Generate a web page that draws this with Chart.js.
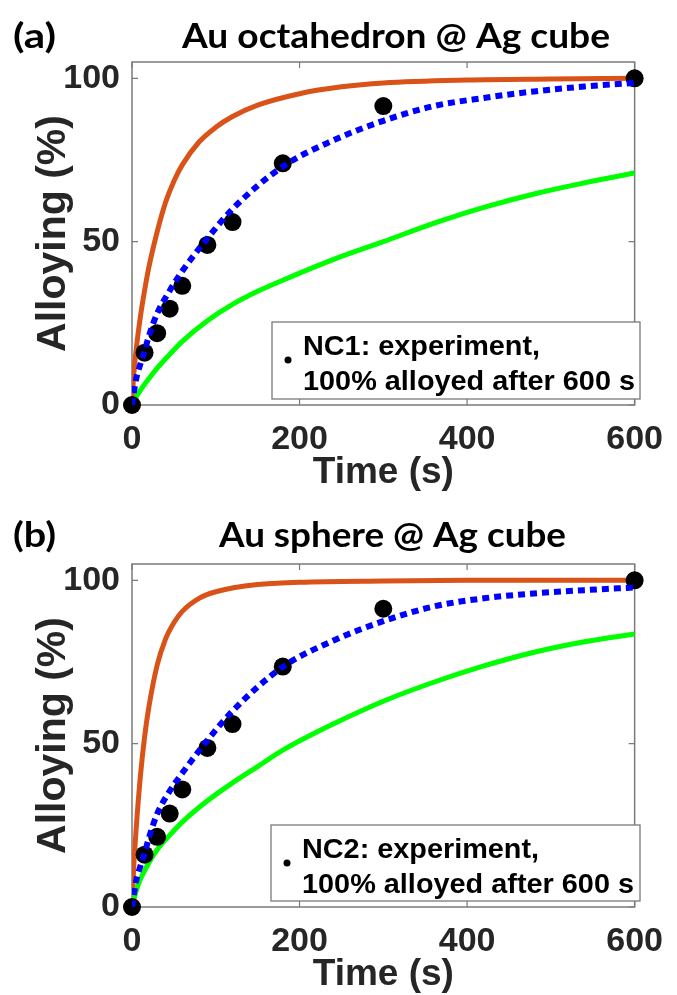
<!DOCTYPE html>
<html>
<head>
<meta charset="utf-8">
<script src="https://cdn.jsdelivr.net/npm/chart.js@4.4.0/dist/chart.umd.min.js"></script>
<style>
  html, body { margin: 0; padding: 0; background: #fff; overflow: hidden; }
  .panel { position: absolute; left: 0; width: 677px; height: 497px; }
</style>
</head>
<body>
<div class="panel" style="top:0"><canvas id="chartA" width="677" height="497"></canvas></div>
<div class="panel" style="top:502px"><canvas id="chartB" width="677" height="497"></canvas></div>
<script>
// tick labels
const xTicks = [0, 200, 400, 600];
const yTicks = [0, 50, 100];

// experiment points (same sampling times in both panels)
const timeExp = [0, 15, 30, 45, 60, 90, 120, 180, 300, 600];
const expA = [0, 16, 22, 29.5, 36.5, 49, 56, 74, 91.5, 100];
const expB = [0, 16, 21.5, 28.6, 36, 48.7, 56, 73.6, 91.3, 100];

// (a) Au octahedron @ Ag cube
const tOrangeA = [0, 2, 5, 10, 15, 20, 30, 40, 50, 60, 80, 100, 120, 150, 200, 250, 300, 400, 500, 600];
const orangeA = [0, 9, 17, 27, 35, 42, 53, 62, 68.5, 73.5, 80.5, 85, 88.3, 91.8, 95.3, 97.4, 98.6, 99.5, 99.8, 100];
const tGreenA = [0, 5, 10, 20, 30, 45, 60, 90, 120, 150, 180, 240, 300, 360, 420, 480, 540, 600];
const greenA = [0, 2.5, 4.5, 8, 11.3, 15.5, 19.5, 25.8, 30.8, 34.8, 38.2, 44.5, 50, 55.6, 60.5, 64.6, 68, 71];
const tBlueA = [0, 5, 10, 15, 20, 30, 45, 60, 90, 120, 180, 240, 300, 360, 420, 480, 540, 600];
const blueA = [0, 8, 12.5, 16.5, 21, 28, 35, 41, 51, 60, 73, 81, 87, 91.5, 94, 96, 97.5, 98.6];

// (b) Au sphere @ Ag cube
const tOrangeB = [0, 2, 5, 10, 15, 20, 30, 40, 50, 60, 80, 100, 150, 200, 300, 400, 600];
const orangeB = [0, 12, 24, 40, 52, 61, 74, 82, 87, 90.5, 94.5, 96.5, 98.7, 99.4, 99.8, 100, 100];
const tGreenB = [0, 5, 10, 20, 30, 45, 60, 90, 120, 150, 180, 240, 300, 360, 420, 480, 540, 600];
const greenB = [0, 5, 8.5, 13.5, 17.5, 22, 26, 32.5, 38, 43, 48, 56, 63, 68.8, 73.8, 78, 81.2, 83.6];
const tBlueB = [0, 5, 10, 15, 20, 30, 45, 60, 90, 120, 180, 240, 300, 360, 420, 480, 540, 600];
const blueB = [0, 8, 12.5, 16.5, 21, 28.5, 35.5, 41, 51, 60, 73.5, 81.5, 87.5, 92, 94.5, 96, 97, 97.8];

const textColor = '#262626';
const axisColor = '#7a7a7a';
const sans = '"Liberation Sans", Arial, sans-serif';

function toXY(xs, ys) {
    return xs.map((x, i) => ({ x: x, y: ys[i] }));
}

// draw text squeezed/stretched to a given width
function fitText(ctx, text, x, y, width, align) {
    const w = ctx.measureText(text).width;
    ctx.save();
    ctx.translate(x, y);
    ctx.scale(width / w, 1);
    ctx.textAlign = align;
    ctx.fillText(text, 0, 0);
    ctx.restore();
}

// box around the axes with inward ticks, titles and the legend
const panelDecor = {
    id: 'panelDecor',
    beforeDatasetsDraw(chart) {
        const { ctx, chartArea: a, scales } = chart;
        ctx.save();
        ctx.strokeStyle = axisColor;
        ctx.lineWidth = 1.5;
        ctx.strokeRect(a.left, a.top, a.right - a.left, a.bottom - a.top);
        ctx.lineWidth = 1.2;
        ctx.beginPath();
        xTicks.forEach(v => {
            const px = scales.x.getPixelForValue(v);
            ctx.moveTo(px, a.bottom); ctx.lineTo(px, a.bottom - 6);
            ctx.moveTo(px, a.top); ctx.lineTo(px, a.top + 6);
        });
        yTicks.forEach(v => {
            const py = scales.y.getPixelForValue(v);
            ctx.moveTo(a.left, py); ctx.lineTo(a.left + 6, py);
            ctx.moveTo(a.right, py); ctx.lineTo(a.right - 6, py);
        });
        ctx.stroke();
        ctx.restore();
    },
    afterDatasetsDraw(chart, args, opts) {
        const { ctx } = chart;
        ctx.save();
        // titles
        ctx.fillStyle = '#000';
        ctx.textBaseline = 'alphabetic';
        ctx.font = 'bold 35px Lato, sans-serif';
        fitText(ctx, opts.label, 13, opts.titleY, 43, 'left');
        fitText(ctx, opts.title, opts.titleX, opts.titleY, opts.titleW, 'center');
        // legend
        const b = opts.box;
        ctx.fillStyle = '#fff';
        ctx.fillRect(b.x, b.y, b.w, b.h);
        ctx.strokeStyle = axisColor;
        ctx.lineWidth = 1.3;
        ctx.strokeRect(b.x, b.y, b.w, b.h);
        ctx.fillStyle = '#000';
        ctx.beginPath();
        ctx.arc(b.x + 16, b.y + 38, 3.5, 0, Math.PI * 2);
        ctx.fill();
        ctx.font = 'bold 27px ' + sans;
        fitText(ctx, opts.legend[0], b.x + 31, b.y + 33, 237, 'left');
        fitText(ctx, opts.legend[1], b.x + 31, b.y + 68, 332, 'left');
        ctx.restore();
    }
};

function makeChart(id, p) {
    const tickFont = { family: sans, size: 34, weight: 'bold' };
    const titleFont = { family: sans, size: 37, weight: 'bold' };
    return new Chart(document.getElementById(id), {
        type: 'scatter',
        data: {
            datasets: [
                { data: toXY(p.tBlue, p.blue), showLine: true, borderColor: '#0000ff', borderWidth: 6,
                  borderDash: [7, 5], pointRadius: 0, cubicInterpolationMode: 'monotone', order: 1 },
                { data: toXY(timeExp, p.exp), showLine: false, pointRadius: 9, pointHoverRadius: 9,
                  backgroundColor: '#000', borderWidth: 0, clip: false, order: 2 },
                { data: toXY(p.tGreen, p.green), showLine: true, borderColor: '#00ff00', borderWidth: 5,
                  pointRadius: 0, cubicInterpolationMode: 'monotone', order: 3 },
                { data: toXY(p.tOrange, p.orange), showLine: true, borderColor: '#d95319', borderWidth: 5,
                  pointRadius: 0, cubicInterpolationMode: 'monotone', order: 4 }
            ]
        },
        options: {
            responsive: false,
            animation: false,
            devicePixelRatio: 1,
            layout: { padding: { top: 62, right: 30, left: 0, bottom: 0 } },
            plugins: {
                legend: { display: false },
                tooltip: { enabled: false },
                panelDecor: p.decor
            },
            scales: {
                x: {
                    type: 'linear', min: 0, max: 600,
                    afterBuildTicks: s => { s.ticks = xTicks.map(v => ({ value: v })); },
                    afterFit: s => { s.height = 92; },
                    grid: { display: false, drawTicks: false },
                    border: { display: false },
                    ticks: { padding: 14, color: textColor, font: tickFont, maxRotation: 0 },
                    title: { display: true, text: 'Time (s)', color: textColor, font: titleFont,
                             padding: { top: 0, bottom: 2 } }
                },
                y: {
                    type: 'linear', min: 0, max: 105,
                    afterBuildTicks: s => { s.ticks = yTicks.map(v => ({ value: v })); },
                    afterFit: s => { s.width = 132; },
                    grid: { display: false, drawTicks: false },
                    border: { display: false },
                    ticks: { padding: 12, color: textColor, font: tickFont },
                    title: { display: true, text: 'Alloying (%)', color: textColor,
                             font: { family: sans, size: 41, weight: 'bold' },
                             padding: { top: 29, bottom: 0 } }
                }
            }
        },
        plugins: [panelDecor]
    });
}

makeChart('chartA', {
    exp: expA, tOrange: tOrangeA, orange: orangeA, tGreen: tGreenA, green: greenA, tBlue: tBlueA, blue: blueA,
    decor: { label: '(a)', title: 'Au octahedron @ Ag cube', titleX: 396, titleY: 48, titleW: 428,
             box: { x: 272, y: 322, w: 368, h: 77 },
             legend: ['NC1: experiment,', '100% alloyed after 600 s'] }
});
makeChart('chartB', {
    exp: expB, tOrange: tOrangeB, orange: orangeB, tGreen: tGreenB, green: greenB, tBlue: tBlueB, blue: blueB,
    decor: { label: '(b)', title: 'Au sphere @ Ag cube', titleX: 392.5, titleY: 45, titleW: 347,
             box: { x: 271, y: 323, w: 369, h: 76 },
             legend: ['NC2: experiment,', '100% alloyed after 600 s'] }
});
</script>
</body>
</html>
